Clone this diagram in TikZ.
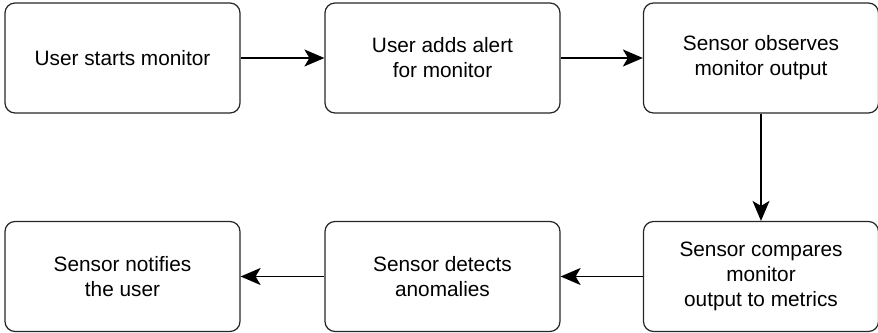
\documentclass[tikz,border=0pt]{standalone}
\usepackage{fontspec}
\setmainfont{Liberation Sans}
\usetikzlibrary{arrows.meta}
\begin{document}
\begin{tikzpicture}[x=1pt,y=1pt,
  stepbox/.style={draw=black!85, line width=1.2pt, rounded corners=10pt,
    minimum width=235pt, minimum height=110pt, inner sep=0pt,
    align=center, text=black, font=\fontsize{20.8}{25}\selectfont},
  flow/.style={draw=black, line width=1.4pt,
    -{Stealth[length=20pt,width=17pt,inset=5pt]}}]
\useasboundingbox (0,0) rectangle (878,332);
\node[stepbox] (a) at (122.5,274) {User starts monitor};
\node[stepbox] (b) at (442.5,274) {User adds alert\\for monitor};
\node[stepbox] (c) at (761,274) {Sensor observes\\monitor output};
\node[stepbox] (d) at (761,55.5) {Sensor compares\\monitor\\output to metrics};
\node[stepbox] (e) at (442.5,55.5) {Sensor detects\\anomalies};
\node[stepbox] (f) at (122.5,55.5) {Sensor notifies\\the user};
\draw[flow] (a) -- (b);
\draw[flow] (b) -- (c);
\draw[flow] (c) -- (d);
\draw[flow] (d) -- (e);
\draw[flow] (e) -- (f);
\end{tikzpicture}
\end{document}
